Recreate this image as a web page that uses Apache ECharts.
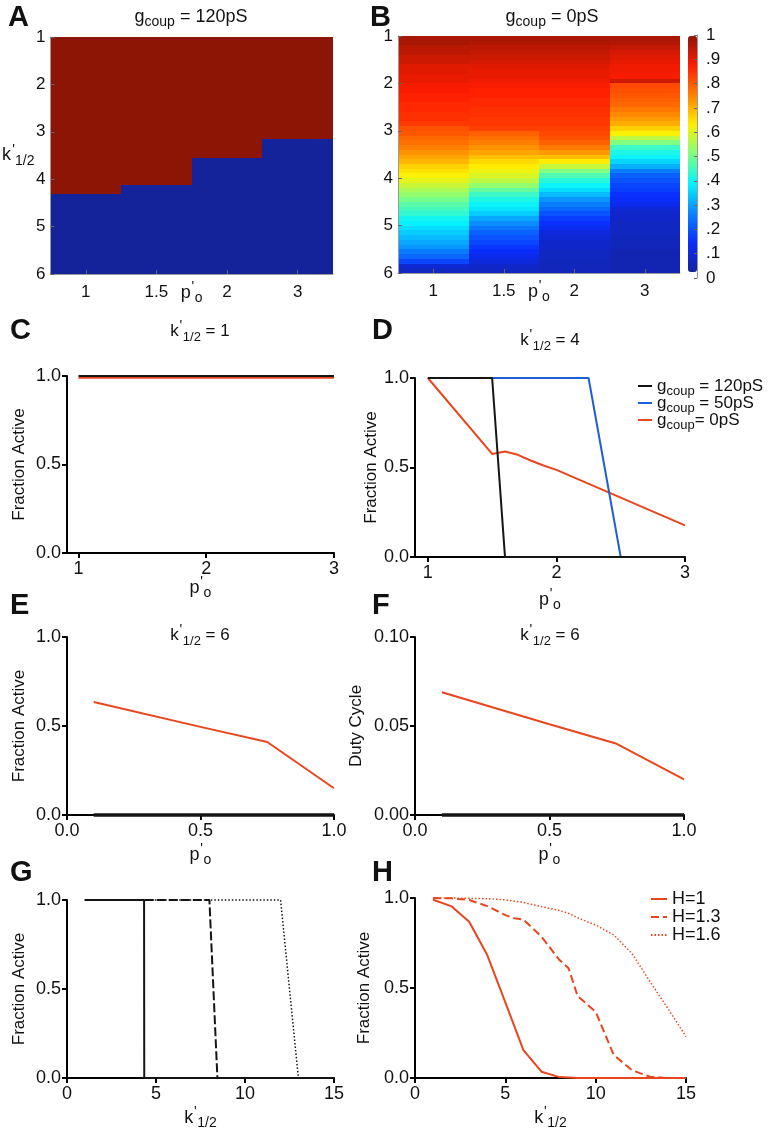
<!DOCTYPE html>
<html><head><meta charset="utf-8">
<script src="https://cdn.jsdelivr.net/npm/echarts@6/dist/echarts.min.js"></script>
<style>html,body{margin:0;padding:0;background:#fff}#c{width:768px;height:1132px}</style>
</head><body><div id="c"></div>
<script>
// ================= DATA =================
// Panels A & B : heat maps, columns = p'o, rows = k'1/2
const heatCols = ['1', '1.5', '2', '3'];
const thresholdA = [4.32, 4.13, 3.55, 3.15];   // k' where fraction active drops 1 -> 0 (gcoup = 120pS)
const kRowsB = [1.0,1.1,1.2,1.3,1.4,1.5,1.6,1.7,1.8,1.9,2.0,2.1,2.2,2.3,2.4,2.5,2.6,2.7,2.8,2.9,
                3.0,3.1,3.2,3.3,3.4,3.5,3.6,3.7,3.8,3.9,4.0,4.1,4.2,4.3,4.4,4.5,4.6,4.7,4.8,4.9,
                5.0,5.1,5.2,5.3,5.4,5.5,5.6,5.7,5.8,5.9];
const kStepB = 0.1;
const fracB_p1  = [.97,.97,.95,.95,.93,.93,.91,.91,.90,.90,.88,.88,.87,.87,.86,.86,.85,.85,.84,.81,
                   .80,.78,.77,.75,.73,.71,.69,.66,.64,.62,.60,.57,.54,.52,.49,.46,.44,.42,.39,.37,
                   .35,.33,.31,.29,.27,.24,.21,.16,.07,.05];
const fracB_p15 = [.97,.96,.95,.94,.93,.92,.91,.90,.90,.89,.88,.87,.87,.86,.86,.85,.85,.84,.84,.83,
                   .79,.77,.75,.73,.71,.68,.65,.63,.61,.59,.56,.52,.47,.43,.40,.38,.36,.33,.29,.26,
                   .23,.20,.18,.16,.14,.12,.10,.08,.06,.05];
const fracB_p2  = [.97,.96,.95,.94,.93,.92,.91,.90,.90,.89,.88,.87,.87,.86,.86,.85,.85,.84,.84,.83,
                   .82,.81,.79,.76,.72,.68,.63,.57,.50,.45,.41,.38,.35,.31,.27,.24,.21,.18,.15,.13,
                   .11,.08,.07,.06,.06,.05,.05,.04,.04,.04];
const fracB_p3  = [.97,.96,.94,.92,.91,.90,.89,.89,.88,.93,.82,.81,.80,.79,.78,.76,.74,.72,.70,.66,
                   .62,.56,.50,.43,.40,.38,.34,.30,.24,.20,.18,.16,.15,.13,.12,.10,.07,.06,.06,.05,
                   .05,.05,.04,.04,.04,.03,.03,.03,.03,.03];
const colorbarTickStep = 0.1;

// Panel C : k'1/2 = 1
const cX = [1, 2, 3];
const cBlack = [1, 1, 1];
const cRed = [0.99, 0.99, 0.99];
const cTicks = [1, 2, 3];

// Panel D : k'1/2 = 4
const dLegend = ['gcoup = 120pS', 'gcoup = 50pS', 'gcoup= 0pS'];
const dXBlack = [1, 1.5, 1.6, 3];
const dYBlack = [1, 1, 0, 0];
const dXBlue = [1, 2.25, 2.5, 3];
const dYBlue = [1, 1, 0, 0];
const dXRed = [1, 1.5, 1.6, 1.7, 1.8, 1.9, 2, 3];
const dYRed = [1, 0.576, 0.589, 0.571, 0.539, 0.511, 0.487, 0.177];

// Panel E : k'1/2 = 6, fraction active
const eX = [0.1, 0.5, 0.75, 1.0];
const eRed = [0.635, 0.495, 0.41, 0.15];
const eBlack = [0, 0, 0, 0];

// Panel F : k'1/2 = 6, duty cycle
const fX = [0.1, 0.5, 0.75, 1.0];
const fRed = [0.069, 0.051, 0.040, 0.020];
const fBlack = [0, 0, 0, 0];

// Panel G
const gXSolid = [1, 4.33, 4.34, 15];
const gYSolid = [1, 1, 0, 0];
const gXDash = [1, 8, 8.45, 15];
const gYDash = [1, 1, 0, 0];
const gXDot = [1, 12, 13, 15];
const gYDot = [1, 1, 0, 0];

// Panel H
const hLegend = ['H=1', 'H=1.3', 'H=1.6'];
const hX1 = [1, 2, 3, 4, 5, 6, 7, 8, 9, 10, 11, 12, 13, 14, 15];
const hY1 = [0.99, 0.955, 0.868, 0.683, 0.42, 0.155, 0.035, 0.005, 0, 0, 0, 0, 0, 0, 0];
const hX2 = [1, 2, 3, 4, 5, 5.5, 6, 7, 8, 8.5, 9, 10, 11, 12, 13, 14, 15];
const hY2 = [1.0, 0.998, 0.989, 0.955, 0.905, 0.887, 0.88, 0.785, 0.655, 0.61, 0.455, 0.368, 0.128, 0.044, 0.007, 0, 0];
const hX3 = [1, 2, 3, 4, 5, 6, 7, 8, 8.5, 9, 10, 11, 12, 13, 14, 15];
const hY3 = [1.0, 1.0, 0.998, 0.996, 0.99, 0.975, 0.952, 0.93, 0.915, 0.89, 0.85, 0.795, 0.693, 0.537, 0.386, 0.23];

// Titles
const gTitles = ['120pS', '0pS'];
const kTitles = [1, 4, 6, 6];

// ================= STYLE =================
const FONT = '"Liberation Sans", Arial, Helvetica, sans-serif';
const RED = '#e8461e', BLUE = '#1f5fd6', BLACK = '#151515';
const JET = ['#14239a', '#0a2cff', '#0a84ff', '#06f4ff', '#80ff80', '#fff000', '#ff8000', '#ff1c00', '#8c1505'];

function richDefs(size) {
  const base = {fontSize: size, fontFamily: FONT, lineHeight: size + 2};
  const sub = {fontSize: Math.round(size * 0.76), fontFamily: FONT, lineHeight: 12, padding: [11, 0, 0, 0]};
  const sup = {fontSize: Math.round(size * 0.8), fontFamily: FONT, lineHeight: 12, padding: [0, 0, 11, 0], width: 4};
  [base, sub, sup].forEach(t => { t.color = '#111'; t.fill = '#111'; });
  return {n: base, s: sub, p: sup};
}
const NAME_P = "{n|p}{p|'}{s|o}";
const NAME_K = "{n|k}{p|'}{s|1/2}";
const kTitle = v => "{n|k}{p|'}{s|1/2}{n| = " + v + "}";
const gTitle = v => "{n|g}{s|coup}{n| = " + v + "}";

const zip = (xs, ys) => xs.map((x, i) => [x, ys[i]]);

// ================= BUILD =================
const dataA = [];
thresholdA.forEach((t, i) => { dataA.push([i, 1, t, 1]); dataA.push([i, t, 6, 0]); });
const fracB = [fracB_p1, fracB_p15, fracB_p2, fracB_p3];
const dataB = [];
fracB.forEach((col, i) => col.forEach((v, j) => dataB.push([i, kRowsB[j], kRowsB[j] + kStepB, v])));

function renderCell(params, api) {
  const c = api.value(0);
  const a = api.coord([c, api.value(1)]);
  const b = api.coord([c, api.value(2)]);
  const w = api.size([1, 0])[0];
  const x0 = Math.round(a[0] - w / 2), x1 = Math.round(a[0] + w / 2);
  const y0 = Math.round(Math.min(a[1], b[1])), y1 = Math.round(Math.max(a[1], b[1]));
  return {type: 'rect',
    shape: {x: x0, y: y0, width: x1 - x0, height: y1 - y0},
    style: {fill: api.visual('color'), stroke: null}};
}

const grids = [
  {left: 49, top: 37, width: 284, height: 237},   // 0 A
  {left: 398, top: 36, width: 282, height: 237},  // 1 B
  {left: 688, top: 35, width: 9, height: 243},    // 2 colorbar axis
  {left: 67, top: 376, width: 267, height: 177},  // 3 C
  {left: 415, top: 378, width: 270, height: 179}, // 4 D
  {left: 67, top: 637, width: 267, height: 178},  // 5 E
  {left: 415, top: 637, width: 269, height: 178}, // 6 F
  {left: 67, top: 900, width: 267, height: 178},  // 7 G
  {left: 415, top: 898, width: 271, height: 180}  // 8 H
];

function heatX(gi, nameGap) {
  return {gridIndex: gi, type: 'category', data: heatCols, z: 5,
    axisLine: {show: true, onZero: false, lineStyle: {color: '#9a9a9a', width: 1}},
    axisTick: {show: true, inside: true, alignWithLabel: true, length: 4, lineStyle: {color: '#666'}},
    axisLabel: {fontSize: 17, fontFamily: FONT, color: '#111', margin: 10},
    splitLine: {show: false},
    name: NAME_P, nameLocation: 'middle', nameGap: nameGap, nameMoveOverlap: false,
    nameTextStyle: {rich: richDefs(18)}};
}
function heatY(gi, withName) {
  const ax = {gridIndex: gi, type: 'value', min: 1, max: 6, interval: 1, inverse: true, z: 5,
    axisLine: {show: true, onZero: false, lineStyle: {color: '#9a9a9a', width: 1}},
    axisTick: {show: true, inside: true, length: 4, lineStyle: {color: '#666'}},
    axisLabel: {fontSize: 17, fontFamily: FONT, color: '#111', margin: 5},
    splitLine: {show: false}};
  if (withName) {
    ax.name = NAME_K; ax.nameLocation = 'middle'; ax.nameRotate = 0; ax.nameGap = 16;
    ax.nameMoveOverlap = false;
    ax.nameTextStyle = {rich: richDefs(18)};
  }
  return ax;
}
function prismAxis(gi, o) {
  const ax = {gridIndex: gi, type: 'value', min: o.min, max: o.max,
    axisLine: {show: true, onZero: false, lineStyle: {color: '#000', width: 2}},
    axisTick: {show: true, length: 5, lineStyle: {color: '#000', width: 2}},
    axisLabel: {fontSize: 18, fontFamily: FONT, color: '#111', margin: o.margin, formatter: o.fmt},
    splitLine: {show: false},
    name: o.name, nameLocation: 'middle', nameGap: o.gap, nameMoveOverlap: false,
    nameTextStyle: o.rich ? {rich: richDefs(18)} : {fontSize: 17, fontFamily: FONT, color: '#111'}};
  if (o.interval != null) ax.interval = o.interval;
  if (o.custom) { ax.axisLabel.customValues = o.custom; ax.axisTick.customValues = o.custom; }
  return ax;
}
const f1 = v => v.toFixed(1), f2 = v => v.toFixed(2), f0 = v => String(v);

const xAxes = [
  heatX(0, 9), heatX(1, 9),
  {gridIndex: 2, type: 'value', min: 0, max: 1, show: false},
  prismAxis(3, {min: 0.91, max: 3, custom: cTicks, fmt: f0, margin: 7, name: NAME_P, gap: 25, rich: true}),
  prismAxis(4, {min: 0.9, max: 3, custom: cTicks, fmt: f0, margin: 7, name: NAME_P, gap: 33, rich: true}),
  prismAxis(5, {min: 0, max: 1, interval: 0.5, fmt: f1, margin: 7, name: NAME_P, gap: 30, rich: true}),
  prismAxis(6, {min: 0, max: 1, interval: 0.5, fmt: f1, margin: 7, name: NAME_P, gap: 30, rich: true}),
  prismAxis(7, {min: 0, max: 15, interval: 5, fmt: f0, margin: 7, name: NAME_K, gap: 30, rich: true}),
  prismAxis(8, {min: 0, max: 15, interval: 5, fmt: f0, margin: 7, name: NAME_K, gap: 30, rich: true})
];
const yAxes = [
  heatY(0, true), heatY(1, false),
  {gridIndex: 2, type: 'value', min: 0, max: 1, interval: colorbarTickStep, position: 'right', z: 10,
    axisLine: {show: true, onZero: false, lineStyle: {color: '#9a9a9a', width: 1}},
    axisTick: {show: true, inside: true, length: 3, lineStyle: {color: '#666'}},
    axisLabel: {fontSize: 17, fontFamily: FONT, color: '#111', margin: 9,
      formatter: v => (v === 0 ? '0' : v === 1 ? '1' : v.toFixed(1).slice(1))},
    splitLine: {show: false}},
  prismAxis(3, {min: 0, max: 1, interval: 0.5, fmt: f1, margin: 6, name: 'Fraction Active', gap: 39}),
  prismAxis(4, {min: 0, max: 1, interval: 0.5, fmt: f1, margin: 6, name: 'Fraction Active', gap: 35}),
  prismAxis(5, {min: 0, max: 1, interval: 0.5, fmt: f1, margin: 6, name: 'Fraction Active', gap: 39}),
  prismAxis(6, {min: 0, max: 0.1, interval: 0.05, fmt: f2, margin: 6, name: 'Duty Cycle', gap: 50}),
  prismAxis(7, {min: 0, max: 1, interval: 0.5, fmt: f1, margin: 6, name: 'Fraction Active', gap: 39}),
  prismAxis(8, {min: 0, max: 1, interval: 0.5, fmt: f1, margin: 6, name: 'Fraction Active', gap: 42})
];

function line(name, gi, xs, ys, color, width, type, z) {
  return {type: 'line', name: name, xAxisIndex: gi, yAxisIndex: gi, data: zip(xs, ys),
    symbol: 'none', showSymbol: false, clip: false, z: z || 3,
    lineStyle: {color: color, width: width, type: type || 'solid'}, itemStyle: {color: color}};
}

const series = [
  {type: 'custom', name: 'A', xAxisIndex: 0, yAxisIndex: 0, data: dataA, renderItem: renderCell,
    encode: {x: 0, y: [1, 2]}, clip: true, z: 2},
  {type: 'custom', name: 'B', xAxisIndex: 1, yAxisIndex: 1, data: dataB, renderItem: renderCell,
    encode: {x: 0, y: [1, 2]}, clip: true, z: 2},
  // C
  line('C120', 3, cX, cRed, RED, 2),
  line('C0', 3, cX, cBlack, BLACK, 2, 'solid', 4),
  // D
  line(dLegend[2], 4, dXRed, dYRed, RED, 2, 'solid', 3),
  line(dLegend[1], 4, dXBlue, dYBlue, BLUE, 2, 'solid', 4),
  line(dLegend[0], 4, dXBlack, dYBlack, BLACK, 2, 'solid', 5),
  // E
  line('Ered', 5, eX, eRed, RED, 2),
  line('Eblack', 5, eX, eBlack, BLACK, 3.5, 'solid', 4),
  // F
  line('Fred', 6, fX, fRed, RED, 2),
  line('Fblack', 6, fX, fBlack, BLACK, 3.5, 'solid', 4),
  // G
  line('G1', 7, gXSolid, gYSolid, BLACK, 2),
  line('G13', 7, gXDash, gYDash, BLACK, 2, [9, 3]),
  line('G16', 7, gXDot, gYDot, BLACK, 1.5, [1.5, 2]),
  // H
  line(hLegend[0], 8, hX1, hY1, RED, 2),
  line(hLegend[1], 8, hX2, hY2, RED, 2, [8, 4]),
  line(hLegend[2], 8, hX3, hY3, RED, 1.5, [1.5, 2])
];

const legendRich = richDefs(17);
const legends = [
  {data: dLegend, orient: 'vertical', left: 632, top: 369, itemWidth: 14, itemHeight: 10, itemGap: -7,
    selectedMode: false, itemStyle: {opacity: 0},
    textStyle: {rich: legendRich, fontSize: 17, fontFamily: FONT, color: '#111'},
    formatter: n => '{n|g}{s|coup}{n|' + n.slice(5) + '}'},
  {data: hLegend, orient: 'vertical', left: 645, top: 885, itemWidth: 16, itemHeight: 10, itemGap: 0,
    selectedMode: false, itemStyle: {opacity: 0},
    textStyle: {fontSize: 18, lineHeight: 18, fontFamily: FONT, color: '#111'}}
];

function gtext(x, y, text, size, bold, rich) {
  const st = {text: text, fontSize: size, fontFamily: FONT, fontWeight: bold ? 'bold' : 'normal',
    fill: '#111', align: rich ? 'center' : 'left', verticalAlign: 'top'};
  if (rich) st.rich = rich;
  return {type: 'text', x: x, y: y, style: st, z: 20};
}
const letters = [['A', 8, 3], ['B', 370, 3], ['C', 10, 316], ['D', 372, 316],
                 ['E', 10, 591], ['F', 372, 591], ['G', 10, 858], ['H', 372, 858]];
const graphics = letters.map(l => gtext(l[1], l[2], l[0], 29, true));
const tRich = richDefs(18);
const tRich17 = richDefs(17);
graphics.push(gtext(191, 7, gTitle(gTitles[0]), 18, false, tRich));
graphics.push(gtext(552, 7, gTitle(gTitles[1]), 18, false, tRich));
graphics.push(gtext(200, 322, kTitle(kTitles[0]), 17, false, tRich17));
graphics.push(gtext(550, 331, kTitle(kTitles[1]), 17, false, tRich17));
graphics.push(gtext(200, 626, kTitle(kTitles[2]), 17, false, tRich17));
graphics.push(gtext(550, 626, kTitle(kTitles[3]), 17, false, tRich17));

const option = {
  animation: false,
  backgroundColor: '#fff',
  textStyle: {fontFamily: FONT},
  grid: grids,
  xAxis: xAxes,
  yAxis: yAxes,
  visualMap: {type: 'continuous', min: 0, max: 1, dimension: 3, seriesIndex: [0, 1],
    inRange: {color: JET}, left: 688, top: 36, itemWidth: 9, itemHeight: 236, padding: 0,
    calculable: false, hoverLink: false, text: null, show: true},
  legend: legends,
  graphic: graphics,
  series: series
};
const chart = echarts.init(document.getElementById('c'), null, {width: 768, height: 1132});
chart.setOption(option);
</script>
</body></html>
